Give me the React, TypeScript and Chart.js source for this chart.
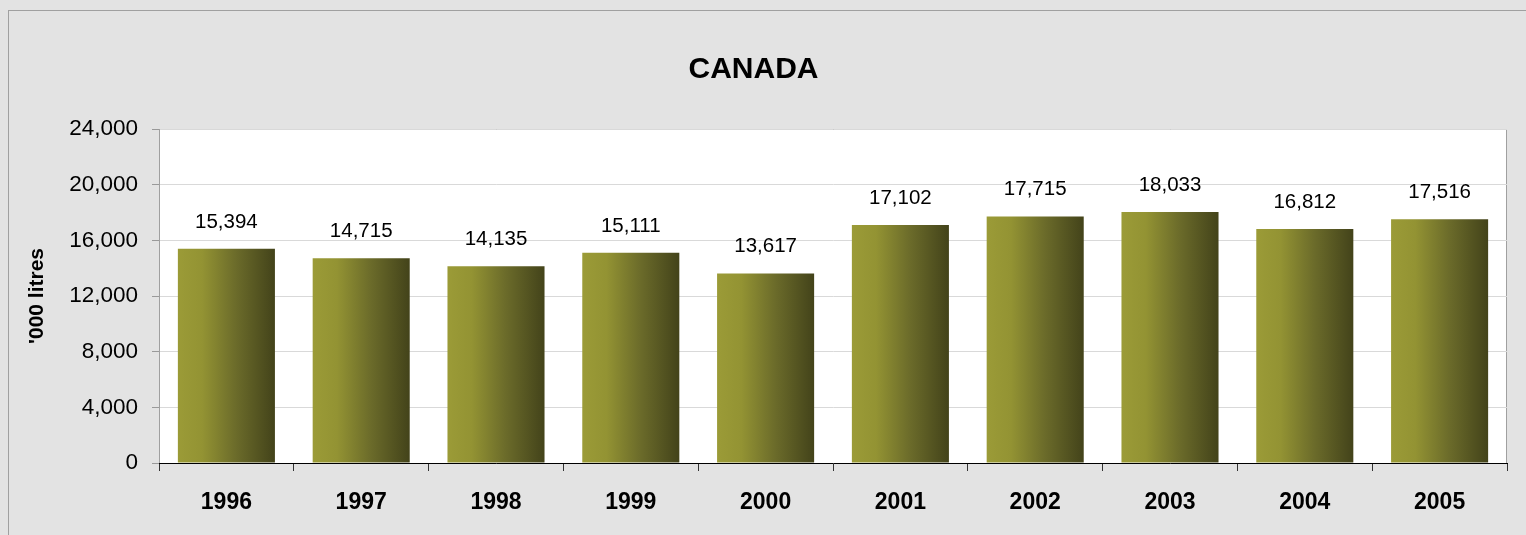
import React, { useEffect, useRef } from "react";
import { Chart, registerables } from "chart.js";

Chart.register(...registerables);

const years = ["1996", "1997", "1998", "1999", "2000", "2001", "2002", "2003", "2004", "2005"];
const volumes = [15394, 14715, 14135, 15111, 13617, 17102, 17715, 18033, 16812, 17516];
const yTicks = [0, 4000, 8000, 12000, 16000, 20000, 24000];
const chartTitle = "CANADA";
const yTitle = "'000 litres";

const FONT = "'Liberation Sans', Arial, sans-serif";
const fmt = (v: number) => v.toLocaleString("en-US");

const framePlugin = {
  id: "frame",
  beforeDraw(chart: any) {
    const { ctx, width, height, chartArea } = chart;
    ctx.save();
    ctx.fillStyle = "#e3e3e3";
    ctx.fillRect(0, 0, width, height);
    ctx.strokeStyle = "#a0a0a0";
    ctx.lineWidth = 1;
    ctx.strokeRect(8.5, 10.5, width + 20, height + 20);
    ctx.fillStyle = "#ffffff";
    ctx.fillRect(chartArea.left, chartArea.top, chartArea.right - chartArea.left, chartArea.bottom - chartArea.top);
    ctx.strokeStyle = "#a0a0a0";
    ctx.beginPath();
    ctx.moveTo(chartArea.left, chartArea.top + 0.5);
    ctx.lineTo(chartArea.right - 0.5, chartArea.top + 0.5);
    ctx.lineTo(chartArea.right - 0.5, chartArea.bottom);
    ctx.stroke();
    ctx.restore();
  },
};

const gradientPlugin = {
  id: "barGradient",
  beforeDatasetsDraw(chart: any) {
    const { ctx } = chart;
    const meta = chart.getDatasetMeta(0);
    meta.data.forEach((el: any) => {
      const w = el.width;
      const g = ctx.createLinearGradient(el.x - w / 2, 0, el.x + w / 2, 0);
      g.addColorStop(0, "#9b9b37");
      g.addColorStop(0.25, "#939333");
      g.addColorStop(0.6, "#6b6b2a");
      g.addColorStop(1, "#43431a");
      el.options = { ...el.options, backgroundColor: g };
    });
  },
};

const labelPlugin = {
  id: "valueLabels",
  afterDatasetsDraw(chart: any) {
    const { ctx } = chart;
    const meta = chart.getDatasetMeta(0);
    ctx.save();
    ctx.font = `20.5px ${FONT}`;
    ctx.fillStyle = "#000";
    ctx.textAlign = "center";
    ctx.textBaseline = "alphabetic";
    meta.data.forEach((bar: any, i: number) => {
      ctx.fillText(fmt(volumes[i]), bar.x, bar.y - 21);
    });
    ctx.restore();
  },
};

export default function App() {
  const ref = useRef<HTMLCanvasElement>(null);
  useEffect(() => {
    const canvas = ref.current!;
    const chart = new Chart(canvas, {
      type: "bar",
      data: {
        labels: years,
        datasets: [
          {
            data: volumes,
            backgroundColor: (c: any) => "#7a7a30",
            borderWidth: 0,
            categoryPercentage: 1,
            barPercentage: 0.72,
          },
        ],
      },
      options: {
        responsive: false,
        animation: false,
        layout: { padding: { left: 0, right: 19, top: 0, bottom: 0 } },
        plugins: {
          legend: { display: false },
          tooltip: { enabled: false },
          title: {
            display: true,
            text: chartTitle,
            color: "#000",
            font: { family: FONT, size: 30, weight: "bold", lineHeight: 1.2 },
            padding: { top: 52, bottom: 41 },
          },
        },
        scales: {
          x: {
            grid: {
              display: true,
              drawOnChartArea: false,
              offset: true,
              tickLength: 8,
              tickColor: "#333",
            },
            border: { display: true, color: "#000", width: 1, z: 1 },
            ticks: {
              color: "#000",
              font: { family: FONT, size: 23, weight: "bold" },
              padding: 18,
              maxRotation: 0,
            },
            afterFit(scale: any) {
              scale.height = 72;
            },
          },
          y: {
            min: 0,
            max: 24000,
            afterBuildTicks(scale: any) {
              scale.ticks = yTicks.map((v) => ({ value: v }));
            },
            grid: {
              color: "#d9d9d9",
              tickColor: "#999",
              tickLength: 7,
            },
            border: { display: true, color: "#a0a0a0" },
            ticks: {
              color: "#000",
              font: { family: FONT, size: 22.5 },
              padding: 14,
              callback: (v: any) => fmt(Number(v)),
            },
            title: {
              display: true,
              text: yTitle,
              color: "#000",
              font: { family: FONT, size: 21, weight: "bold", lineHeight: 1.2 },
              padding: { top: 25, bottom: 0 },
            },
            afterFit(scale: any) {
              scale.width = 159;
            },
          },
        },
      },
      plugins: [framePlugin, gradientPlugin, labelPlugin],
    } as any);
    return () => chart.destroy();
  }, []);
  return (
    <div style={{ position: "absolute", left: 0, top: 0, width: 1526, height: 535 }}>
      <canvas ref={ref} width={1526} height={535} style={{ display: "block" }} />
    </div>
  );
}
